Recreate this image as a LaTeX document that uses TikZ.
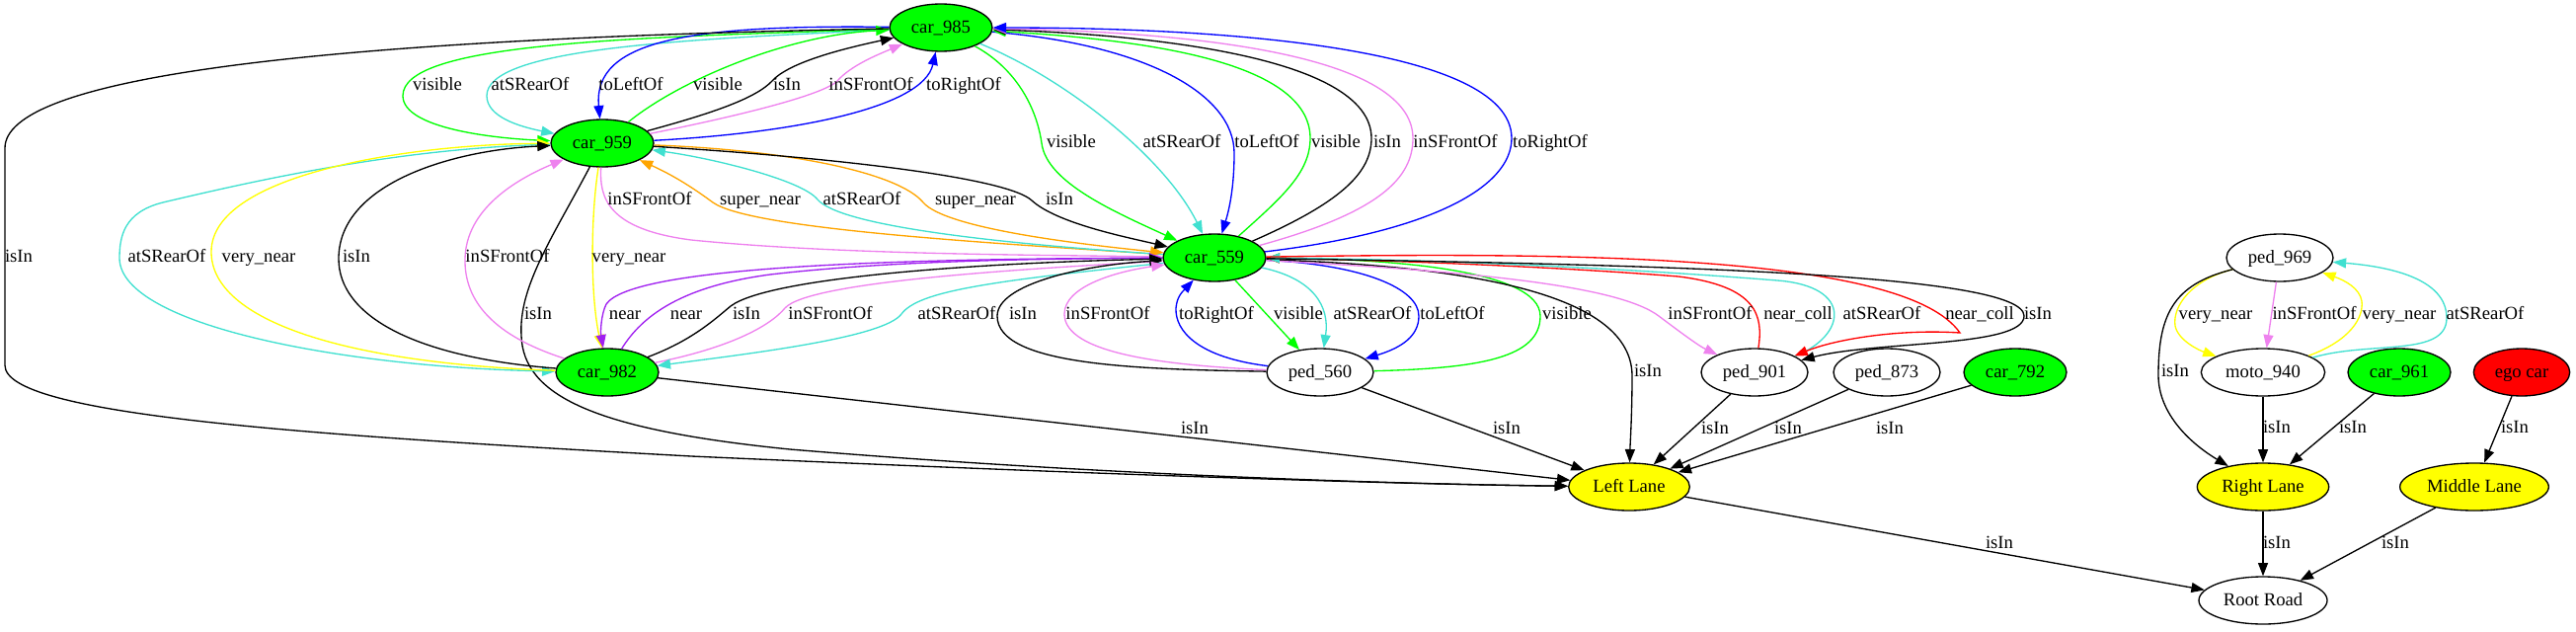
\documentclass[tikz,border=0pt]{standalone}
\usepackage{fontspec}
\setmainfont{Liberation Serif}
\usetikzlibrary{shapes.geometric,arrows.meta}
\definecolor{ggreen}{RGB}{0,255,0}
\definecolor{turq}{RGB}{64,224,208}
\definecolor{gblue}{RGB}{0,0,255}
\definecolor{gviolet}{RGB}{238,130,238}
\definecolor{gyellow}{RGB}{255,255,0}
\definecolor{gorange}{RGB}{255,165,0}
\definecolor{gpurple}{RGB}{160,32,240}
\definecolor{gred}{RGB}{255,0,0}
\tikzset{
  nd/.style={ellipse, draw=black, line width=1pt, minimum height=36pt, inner sep=0pt,
    font=\fontsize{14}{16}\selectfont, text height=10pt, text depth=2pt},
  carn/.style={nd, fill=ggreen, minimum width=78pt},
  pedn/.style={nd, minimum width=81pt},
  lanen/.style={nd, fill=gyellow},
  e/.style={line width=1pt, -{Triangle[length=10pt,width=7.5pt]}},
  lb/.style={font=\fontsize{14}{16}\selectfont, inner sep=0pt, text height=10pt, text depth=2pt},
}
\begin{document}
\begin{tikzpicture}[x=0.75pt,y=-0.75pt]
\useasboundingbox (0,0) rectangle (2609,639);
% nodes
\node[carn] (c985) at (953,28) {car\_985};
\node[carn] (c959) at (610,145) {car\_959};
\node[carn] (c559) at (1230,261) {car\_559};
\node[pedn] (p969) at (2309,261) {ped\_969};
\node[carn] (c982) at (615,377) {car\_982};
\node[pedn] (p560) at (1337,377) {ped\_560};
\node[pedn] (p901) at (1777,377) {ped\_901};
\node[pedn] (p873) at (1911,377) {ped\_873};
\node[carn] (c792) at (2041,377) {car\_792};
\node[nd, minimum width=94pt] (m940) at (2292,377) {moto\_940};
\node[carn] (c961) at (2430,377) {car\_961};
\node[nd, fill=gred, minimum width=73pt] (ego) at (2554,377) {ego car};
\node[lanen, minimum width=92pt] (ll) at (1650,493) {Left Lane};
\node[lanen, minimum width=100pt] (rl) at (2292,493) {Right Lane};
\node[lanen, minimum width=113pt] (ml) at (2506,493) {Middle Lane};
\node[nd, minimum width=97.5pt] (rr) at (2292,608) {Root Road};

% car985 <-> car959
\draw[e,ggreen] (c985) .. controls (620,38) and (408,45) .. (408,97) .. controls (408,130) and (500,140) .. (c959);
\draw[e,turq] (c985) .. controls (680,40) and (493,50) .. (493,97) .. controls (493,118) and (525,128) .. (c959);
\draw[e,gblue] (c985) .. controls (700,25) and (600,40) .. (c959);
\draw[e,ggreen] (c959) .. controls (690,80) and (800,35) .. (c985);
\draw[e] (c959) .. controls (720,115) and (765,100) .. (782,82) .. controls (800,62) and (860,48) .. (c985);
\draw[e,gviolet] (c959) .. controls (760,115) and (835,95) .. (848,82) .. controls (862,66) and (890,55) .. (c985);
\draw[e,gblue] (c959) .. controls (800,135) and (935,110) .. (c985);
\node[lb] (l01) at (443,86) {visible};
\node[lb] (l02) at (537,86) {atSRearOf};
\node[lb] (l03) at (639,86) {toLeftOf};
\node[lb] (l04) at (727,86) {visible};
\node[lb] (l05) at (797,86) {isIn};
\node[lb] (l06) at (882,86) {inSFrontOf};
\node[lb] (l07) at (976,86) {toRightOf};

% long isIn edges to Left Lane
\draw[e] (c985) .. controls (300,40) and (5,80) .. (5,150) -- (5,370) .. controls (5,420) and (300,440) .. (700,462) .. controls (1100,480) and (1400,490) .. (ll);
\node[lb] (l08) at (19,260) {isIn};
\draw[e] (c959) .. controls (560,240) and (525,290) .. (528,340) .. controls (530,400) and (600,435) .. (800,455) .. controls (1100,480) and (1400,490) .. (ll);
\node[lb] (l09) at (545,318) {isIn};

% car985 <-> car559
\draw[e,ggreen] (c985) .. controls (1030,70) and (1050,110) .. (1055,145) .. controls (1060,185) and (1130,215) .. (c559);
\draw[e,turq] (c985) .. controls (1080,80) and (1180,160) .. (c559);
\draw[e,gblue] (c985) .. controls (1160,45) and (1250,95) .. (1250,155) .. controls (1250,190) and (1245,212) .. (c559);
\draw[e,ggreen] (c559) .. controls (1298,200) and (1327,175) .. (1327,140) .. controls (1327,60) and (1150,40) .. (c985);
\draw[e] (c559) .. controls (1358,205) and (1389,175) .. (1389,140) .. controls (1389,55) and (1150,35) .. (c985);
\draw[e,gviolet] (c559) .. controls (1398,215) and (1431,180) .. (1431,140) .. controls (1431,50) and (1180,32) .. (c985);
\draw[e,gblue] (c559) .. controls (1448,235) and (1531,190) .. (1531,140) .. controls (1531,45) and (1220,28) .. (c985);
\node[lb] (l10) at (1085,144) {visible};
\node[lb] (l11) at (1197,144) {atSRearOf};
\node[lb] (l12) at (1283,144) {toLeftOf};
\node[lb] (l13) at (1353,144) {visible};
\node[lb] (l14) at (1405,144) {isIn};
\node[lb] (l15) at (1474,144) {inSFrontOf};
\node[lb] (l16) at (1570,144) {toRightOf};

% car959 <-> car559
\draw[e,gviolet] (c959) .. controls (607,200) and (615,232) .. (700,243) .. controls (850,258) and (1050,258) .. (c559);
\draw[e,gorange] (c559) .. controls (1000,246) and (760,232) .. (722,205) .. controls (703,191) and (683,178) .. (c959);
\draw[e,turq] (c559) .. controls (1000,246) and (850,228) .. (828,202) .. controls (812,182) and (720,160) .. (c959);
\draw[e,gorange] (c959) .. controls (800,152) and (910,175) .. (935,205) .. controls (958,232) and (1100,248) .. (c559);
\draw[e] (c959) .. controls (850,160) and (1020,180) .. (1045,203) .. controls (1070,226) and (1140,240) .. (c559);
\node[lb] (l17) at (658,202) {inSFrontOf};
\node[lb] (l18) at (770,202) {super\_near};
\node[lb] (l19) at (873,202) {atSRearOf};
\node[lb] (l20) at (988,202) {super\_near};
\node[lb] (l21) at (1073,202) {isIn};

% car959 <-> car982
\draw[e,turq] (c959) .. controls (400,150) and (250,185) .. (165,205) .. controls (125,215) and (121,240) .. (121,262) .. controls (123,330) and (350,372) .. (c982);
\draw[e,gyellow] (c982) .. controls (350,368) and (214,325) .. (214,255) .. controls (214,175) and (420,146) .. (c959);
\draw[e] (c982) .. controls (420,362) and (343,320) .. (343,262) .. controls (343,185) and (460,152) .. (c959);
\draw[e,gviolet] (c982) .. controls (500,340) and (470,305) .. (471,262) .. controls (472,212) and (522,182) .. (c959);
\draw[e,gyellow] (c959) .. controls (598,220) and (598,300) .. (c982);
\node[lb] (l22) at (169,260) {atSRearOf};
\node[lb] (l23) at (262,260) {very\_near};
\node[lb] (l24) at (361,260) {isIn};
\node[lb] (l25) at (514,260) {inSFrontOf};
\node[lb] (l26) at (637,260) {very\_near};

% car559 <-> car982
\draw[e,gpurple] (c559) .. controls (900,262) and (640,270) .. (614,308) .. controls (609,318) and (608,335) .. (c982);
\draw[e,gpurple] (c982) .. controls (650,320) and (690,290) .. (780,278) .. controls (900,264) and (1050,262) .. (c559);
\draw[e] (c982) .. controls (700,345) and (722,325) .. (740,310) .. controls (780,280) and (1000,266) .. (c559);
\draw[e,gviolet] (c982) .. controls (740,352) and (780,330) .. (795,312) .. controls (820,284) and (1050,272) .. (c559);
\draw[e,turq] (c559) .. controls (1000,285) and (930,295) .. (913,318) .. controls (895,342) and (760,358) .. (c982);
\node[lb] (l27) at (633,318) {near};
\node[lb] (l28) at (695,318) {near};
\node[lb] (l29) at (756,318) {isIn};
\node[lb] (l30) at (841,318) {inSFrontOf};
\node[lb] (l31) at (969,318) {atSRearOf};

% car559 <-> ped560
\draw[e] (p560) .. controls (1150,374) and (1010,370) .. (1010,320) .. controls (1010,287) and (1100,268) .. (c559);
\draw[e,gviolet] (p560) .. controls (1180,370) and (1078,358) .. (1078,318) .. controls (1078,290) and (1130,275) .. (c559);
\draw[e,gblue] (p560) .. controls (1213,362) and (1190,335) .. (1191,312) .. controls (1192,300) and (1198,295) .. (c559);
\draw[e,ggreen] (c559) -- (p560);
\draw[e,turq] (c559) .. controls (1330,282) and (1347,310) .. (p560);
\draw[e,gblue] (c559) .. controls (1380,268) and (1437,292) .. (1437,320) .. controls (1437,340) and (1420,352) .. (p560);
\draw[e,ggreen] (p560) .. controls (1500,373) and (1560,362) .. (1560,320) .. controls (1560,272) and (1400,262) .. (c559);
\node[lb] (l32) at (1036,318) {isIn};
\node[lb] (l33) at (1122,318) {inSFrontOf};
\node[lb] (l34) at (1232,318) {toRightOf};
\node[lb] (l35) at (1315,318) {visible};
\node[lb] (l36) at (1390,318) {atSRearOf};
\node[lb] (l37) at (1471,318) {toLeftOf};
\node[lb] (l38) at (1587,318) {visible};

% car559 -> Left Lane
\draw[e] (c559) .. controls (1500,270) and (1652,300) .. (1653,380) .. controls (1653,420) and (1651,450) .. (ll);
\node[lb] (l39) at (1669,376) {isIn};

% car559 <-> ped901
\draw[e,gviolet] (c559) .. controls (1500,275) and (1640,290) .. (1680,320) .. controls (1700,335) and (1720,350) .. (p901);
\draw[e,gred] (p901) .. controls (1786,320) and (1780,290) .. (1700,280) .. controls (1550,268) and (1350,262) .. (c559);
\draw[e,turq] (p901) .. controls (1870,340) and (1878,290) .. (1800,284) .. controls (1600,268) and (1400,262) .. (c559);
\draw[e,gred] (c559) .. controls (1600,255) and (1930,258) .. (1985,337) .. controls (1925,333) and (1860,343) .. (p901);
\draw[e] (c559) .. controls (1700,268) and (2050,278) .. (2050,320) .. controls (2050,352) and (1900,345) .. (p901);
\node[lb] (l40) at (1732,318) {inSFrontOf};
\node[lb] (l41) at (1821,318) {near\_coll};
\node[lb] (l42) at (1906,318) {atSRearOf};
\node[lb] (l43) at (2005,318) {near\_coll};
\node[lb] (l44) at (2064,318) {isIn};

% straight isIn edges
\draw[e] (c982) -- (ll);
\draw[e] (p560) -- (ll);
\draw[e] (p901) -- (ll);
\draw[e] (p873) -- (ll);
\draw[e] (c792) -- (ll);
\draw[e] (ll) -- (rr);
\node[lb] (l45) at (1210,434) {isIn};
\node[lb] (l46) at (1526,434) {isIn};
\node[lb] (l47) at (1737,434) {isIn};
\node[lb] (l48) at (1811,434) {isIn};
\node[lb] (l49) at (1914,434) {isIn};
\node[lb] (l50) at (2025,550) {isIn};

% right part
\draw[e,gyellow] (p969) .. controls (2220,283) and (2200,310) .. (2203,330) .. controls (2206,345) and (2228,355) .. (m940);
\draw[e,gviolet] (p969) -- (m940);
\draw[e,gyellow] (m940) .. controls (2380,345) and (2394,322) .. (2392,305) .. controls (2390,292) and (2375,284) .. (p969);
\draw[e,turq] (m940) .. controls (2400,345) and (2478,362) .. (2478,322) .. controls (2478,282) and (2420,270) .. (p969);
\draw[e] (p969) .. controls (2200,288) and (2186,320) .. (2186,380) .. controls (2186,420) and (2220,450) .. (rl);
\draw[e] (m940) -- (rl);
\draw[e] (c961) -- (rl);
\draw[e] (ego) -- (ml);
\draw[e] (rl) -- (rr);
\draw[e] (ml) -- (rr);
\node[lb] (l51) at (2244,318) {very\_near};
\node[lb] (l52) at (2344,318) {inSFrontOf};
\node[lb] (l53) at (2430,318) {very\_near};
\node[lb] (l54) at (2517,318) {atSRearOf};
\node[lb] (l55) at (2203,376) {isIn};
\node[lb] (l56) at (2306,433) {isIn};
\node[lb] (l57) at (2383,433) {isIn};
\node[lb] (l58) at (2547,433) {isIn};
\node[lb] (l59) at (2306,550) {isIn};
\node[lb] (l60) at (2426,550) {isIn};
\end{tikzpicture}
\end{document}
